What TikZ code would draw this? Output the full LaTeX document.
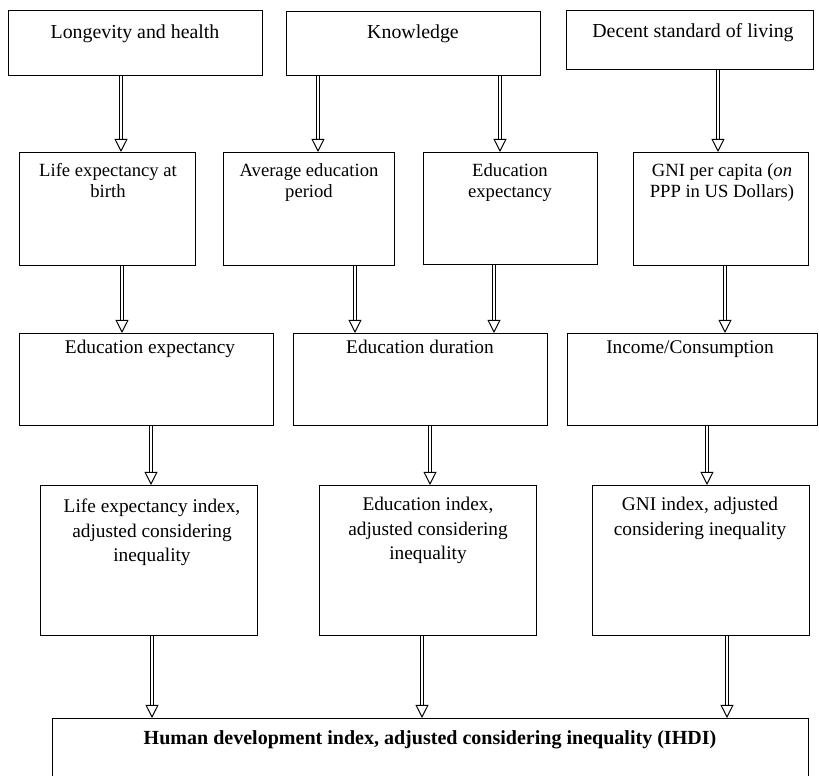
\documentclass[tikz,border=0pt]{standalone}
\usepackage{fontspec}
\setmainfont{Liberation Serif}
\usetikzlibrary{arrows.meta}

\begin{document}
\begin{tikzpicture}[x=0.02cm,y=-0.02cm,
  box/.style={draw,line width=0.6pt,anchor=north west,inner sep=0pt},
  lbl/.style={anchor=north,inner sep=0pt,align=center},
  big/.style={lbl,font=\fontsize{11.3}{13.9}\selectfont},
  small/.style={lbl,font=\fontsize{10.6}{11.9}\selectfont},
  mid/.style={lbl,font=\fontsize{11}{13.9}\selectfont},
  dblarrow/.style={double,double distance=1.7pt,line width=0.55pt,
    -{Triangle[open,width=7.4pt,length=7.4pt,line width=0.55pt]}}]
  \clip (0,0) rectangle (819,776);
  % dimensions
  \node[box,minimum width=5.08cm,minimum height=1.30cm] (lh) at (8,10) {};
  \node[box,minimum width=5.08cm,minimum height=1.28cm] (kn) at (286,11) {};
  \node[box,minimum width=4.94cm,minimum height=1.18cm] (dsl) at (566,10) {};
  \node[big] at (135,24) {Longevity and health};
  \node[big] at (413,24) {Knowledge};
  \node[big] at (693,23) {Decent standard of living};
  % indicators
  \node[box,minimum width=3.52cm,minimum height=2.26cm] (lex) at (19,152) {};
  \node[box,minimum width=3.42cm,minimum height=2.26cm] (aep) at (223,152) {};
  \node[box,minimum width=3.48cm,minimum height=2.24cm] (eex) at (423,152) {};
  \node[box,minimum width=3.50cm,minimum height=2.26cm] (gni) at (633,152) {};
  \node[small] at (108,163) {Life expectancy at\\birth};
  \node[small] at (309,163) {Average education\\period};
  \node[small] at (510,163) {Education\\expectancy};
  \node[small] at (722,163) {GNI per capita (\textit{on}\\PPP in US Dollars)};
  % distributions
  \node[box,minimum width=5.08cm,minimum height=1.84cm] (edx) at (19,333) {};
  \node[box,minimum width=5.08cm,minimum height=1.84cm] (edd) at (293,333) {};
  \node[box,minimum width=5.00cm,minimum height=1.84cm] (inc) at (567,333) {};
  \node[mid] at (150,340) {Education expectancy};
  \node[mid] at (420,340) {Education duration};
  \node[mid] at (690,340) {Income/Consumption};
  % adjusted indices
  \node[box,minimum width=4.34cm,minimum height=3.00cm] (lei) at (40,485) {};
  \node[box,minimum width=4.34cm,minimum height=3.00cm] (edi) at (319,485) {};
  \node[box,minimum width=4.34cm,minimum height=3.00cm] (gii) at (592,485) {};
  \node[mid] at (152,499) {Life expectancy index,\\adjusted considering\\inequality};
  \node[mid] at (428,497) {Education index,\\adjusted considering\\inequality};
  \node[mid] at (700,497) {GNI index, adjusted\\considering inequality};
  % result
  \node[box,minimum width=15.12cm,minimum height=1.40cm] (ihdi) at (52,718) {};
  \node[lbl,font=\bfseries\fontsize{11.4}{13.5}\selectfont] at (430,730)
    {Human development index, adjusted considering inequality (IHDI)};
  % arrows
  \draw[dblarrow] (lh.south -| 121,0) -- (lex.north -| 121,0);
  \draw[dblarrow] (kn.south -| 318,0) -- (aep.north -| 318,0);
  \draw[dblarrow] (kn.south -| 500,0) -- (eex.north -| 500,0);
  \draw[dblarrow] (dsl.south -| 718,0) -- (gni.north -| 718,0);
  \draw[dblarrow] (lex.south -| 122,0) -- (edx.north -| 122,0);
  \draw[dblarrow] (aep.south -| 355,0) -- (edd.north -| 355,0);
  \draw[dblarrow] (eex.south -| 494,0) -- (edd.north -| 494,0);
  \draw[dblarrow] (gni.south -| 725,0) -- (inc.north -| 725,0);
  \draw[dblarrow] (edx.south -| 151,0) -- (lei.north -| 151,0);
  \draw[dblarrow] (edd.south -| 430,0) -- (edi.north -| 430,0);
  \draw[dblarrow] (inc.south -| 707,0) -- (gii.north -| 707,0);
  \draw[dblarrow] (lei.south -| 152,0) -- (ihdi.north -| 152,0);
  \draw[dblarrow] (edi.south -| 422,0) -- (ihdi.north -| 422,0);
  \draw[dblarrow] (gii.south -| 727,0) -- (ihdi.north -| 727,0);
\end{tikzpicture}
\end{document}
